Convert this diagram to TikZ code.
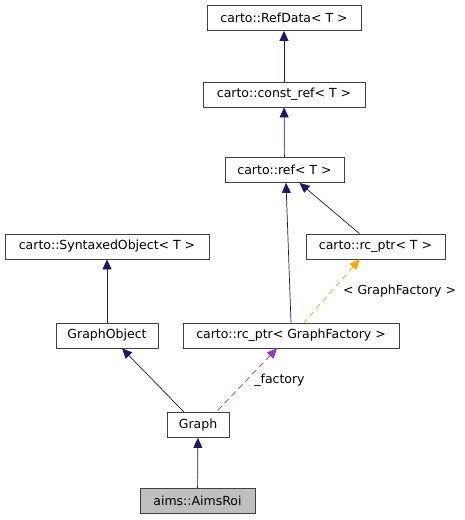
\documentclass[tikz,border=0pt]{standalone}
\usepackage{fontspec}
\setmainfont{DejaVu Sans}
\usepackage{tikz}
\usetikzlibrary{positioning,arrows.meta}

\definecolor{edgeblue}{HTML}{191970}
\definecolor{edgeorange}{HTML}{FFA500}
\definecolor{edgepurple}{HTML}{9A32CD}

\begin{document}
\begin{tikzpicture}[
        x=1pt, y=-1pt,
        box/.style = {draw=black!75, line width=0.8pt, inner sep=0pt, minimum height=25pt, font=\fontsize{12.5}{14}\selectfont},
        arrow/.style = {{Triangle[length=10pt,width=9pt]}-, edgeblue, line width=0.7pt},
        tmpl/.style = {{Triangle[length=10pt,width=9pt]}-, edgeorange, dashed, dash pattern=on 6pt off 4pt, line width=0.7pt},
        member/.style = {{Triangle[length=10pt,width=9pt]}-, edgepurple, dashed, dash pattern=on 6pt off 4pt, line width=0.7pt},
        lbl/.style = {font=\fontsize{12.5}{14}\selectfont, inner sep=0pt, text=black}
    ]
    \useasboundingbox (0,0) rectangle (465,520);

    \node[box, minimum width=154pt] (refdata) at (284,18) {carto::RefData< T >};
    \node[box, minimum width=162pt] (constref) at (284,94.5) {carto::const\_ref< T >};
    \node[box, minimum width=119pt] (ref) at (284.5,170) {carto::ref< T >};
    \node[box, minimum width=139pt] (rcptrT) at (375.5,246.5) {carto::rc\_ptr< T >};
    \node[box, minimum width=204pt] (syntaxed) at (107,246.5) {carto::SyntaxedObject< T >};
    \node[box, minimum width=102pt] (graphobject) at (107,335.5) {GraphObject};
    \node[box, minimum width=216pt] (rcptrGF) at (291,335.5) {carto::rc\_ptr< GraphFactory >};
    \node[box, minimum width=62pt] (graph) at (198,425) {Graph};
    \node[box, minimum width=115pt, fill=black!25] (aimsroi) at (197.5,501) {aims::AimsRoi};

    % Arrows
    \draw[arrow] (refdata) -- (constref);
    \draw[arrow] (constref) -- (ref);
    \draw[arrow] ([xshift=15pt]ref.south) -- ([xshift=-16pt]rcptrT.north);
    \draw[arrow] ([xshift=1.5pt]ref.south) -- ([xshift=0pt]rcptrGF.north);
    \draw[arrow] (syntaxed) -- (graphobject);
    \draw[tmpl] ([xshift=-16pt]rcptrT.south) -- ([xshift=13pt]rcptrGF.north)
        node[lbl, pos=0.5, right=11pt] (tmpllabel) {< GraphFactory >};
    \draw[arrow] ([xshift=15pt]graphobject.south) -- ([xshift=-14pt]graph.north);
    \draw[member] ([xshift=-14pt]rcptrGF.south) -- ([xshift=18pt]graph.north)
        node[lbl, pos=0.5, right=7.5pt] (factorylabel) {\_factory};
    \draw[arrow] (graph) -- (aimsroi);

\end{tikzpicture}
\end{document}
